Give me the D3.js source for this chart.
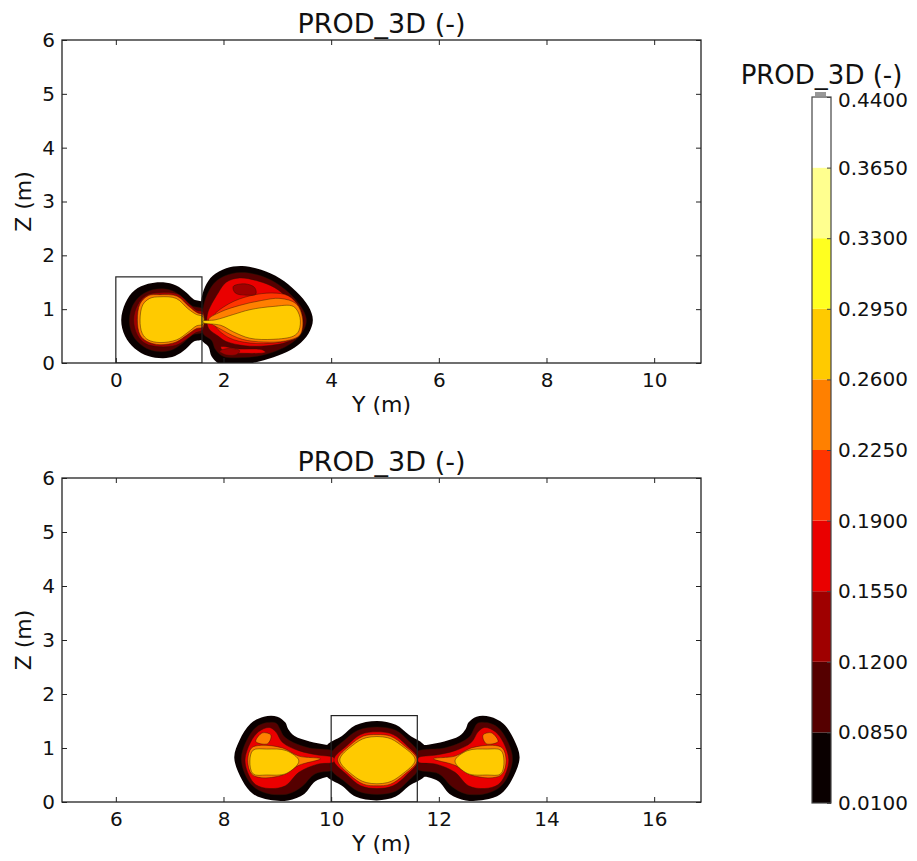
<!DOCTYPE html>
<html>
<head>
<meta charset="utf-8">
<script src="https://cdn.jsdelivr.net/npm/d3@7/dist/d3.min.js"></script>
<style>
  body { margin: 0; background: #fff; }
  svg { display: block; font-family: "DejaVu Sans", sans-serif; }
</style>
</head>
<body>
<svg id="chart" width="917" height="861"></svg>
<script>
// contour levels of PROD_3D and the 'hot' colours between them
const levels = [0.01, 0.085, 0.12, 0.155, 0.19, 0.225, 0.26, 0.295, 0.33, 0.365, 0.44];
const hotColours = ['#0a0000', '#550000', '#9f0000', '#ea0000', '#ff3500', '#ff8000',
                    '#ffca00', '#ffff20', '#ffff8f', '#ffffff'];

const zTicks = [0, 1, 2, 3, 4, 5, 6];
const yTicksTop = [0, 2, 4, 6, 8, 10];
const yTicksBottom = [6, 8, 10, 12, 14, 16];
const yRangeTop = [-1, 10.87];
const yRangeBottom = [5, 16.87];
const zRange = [0, 6];

// box outlines (y0, z0, y1, z1)
const boxTop = [0, 0, 1.6, 1.6];
const boxBottom = [10, 0, 11.6, 1.6];

// filled contour regions: lower bound of the band + outline (Y, Z)
const topLeftBlob = [
  {v: 0.01, pts: [[0.1,0.8],[0.18,1.12],[0.35,1.35],[0.6,1.47],[0.88,1.5],[1.12,1.44],[1.32,1.3],[1.45,1.18],[1.62,1.12],[1.62,0.45],[1.45,0.4],[1.3,0.26],[1.1,0.13],[0.88,0.09],[0.6,0.13],[0.35,0.27],[0.17,0.5]]},
  {v: 0.085, pts: [[0.25,0.8],[0.32,1.08],[0.47,1.26],[0.68,1.36],[0.88,1.38],[1.08,1.33],[1.26,1.2],[1.42,1.06],[1.62,1.0],[1.62,0.58],[1.42,0.52],[1.26,0.38],[1.06,0.25],[0.86,0.21],[0.62,0.25],[0.42,0.38],[0.3,0.55]]},
  {v: 0.12, pts: [[0.33,0.8],[0.4,1.07],[0.55,1.25],[0.82,1.31],[1.15,1.28],[1.36,1.1],[1.5,0.98],[1.62,0.95],[1.62,0.62],[1.48,0.56],[1.3,0.43],[1.12,0.33],[0.82,0.3],[0.55,0.36],[0.4,0.52]]},
  {v: 0.225, pts: [[0.4,0.8],[0.45,1.1],[0.6,1.25],[0.82,1.27],[1.14,1.24],[1.36,1.05],[1.52,0.93],[1.62,0.9],[1.62,0.67],[1.5,0.64],[1.32,0.52],[1.12,0.39],[0.82,0.34],[0.58,0.4],[0.45,0.52]]},
  {v: 0.26, pts: [[0.45,0.8],[0.5,1.08],[0.63,1.2],[0.82,1.23],[1.12,1.2],[1.35,1.0],[1.5,0.9],[1.62,0.86],[1.62,0.72],[1.5,0.69],[1.34,0.57],[1.13,0.43],[0.82,0.38],[0.6,0.43],[0.49,0.55]]}
];

const topRightBlob = [
  {v: 0.01, pts: [[1.58,1.12],[1.66,1.42],[1.8,1.62],[2.05,1.76],[2.35,1.8],[2.7,1.73],[3.05,1.57],[3.35,1.33],[3.58,1.05],[3.66,0.8],[3.58,0.55],[3.38,0.33],[3.1,0.17],[2.75,0.05],[2.35,-0.03],[1.95,-0.03],[1.78,0.12],[1.72,0.3],[1.58,0.45]]},
  {v: 0.085, pts: [[1.62,1.02],[1.74,1.36],[1.9,1.55],[2.15,1.66],[2.4,1.68],[2.72,1.61],[3.02,1.46],[3.28,1.24],[3.48,0.98],[3.54,0.78],[3.46,0.56],[3.28,0.38],[3.0,0.23],[2.7,0.14],[2.35,0.1],[2.0,0.12],[1.85,0.25],[1.78,0.42],[1.62,0.55]]},
  {v: 0.155, pts: [[1.7,0.9],[1.9,1.3],[2.05,1.5],[2.3,1.58],[2.65,1.52],[2.95,1.4],[3.2,1.2],[3.42,0.95],[3.48,0.75],[3.4,0.5],[3.15,0.38],[2.8,0.32],[2.4,0.32],[2.05,0.4],[1.9,0.5],[1.72,0.65]]},
  {v: 0.19, pts: [[1.8,0.85],[2.1,1.1],[2.5,1.25],[2.9,1.3],[3.2,1.25],[3.4,1.05],[3.47,0.8],[3.4,0.5],[3.0,0.38],[2.5,0.37],[2.1,0.47],[1.85,0.68]]},
  {v: 0.225, pts: [[1.72,0.8],[1.95,0.95],[2.3,1.07],[2.7,1.16],[3.05,1.2],[3.35,1.1],[3.47,0.82],[3.42,0.52],[3.15,0.41],[2.75,0.39],[2.35,0.44],[2.0,0.6]]},
  {v: 0.26, pts: [[1.62,0.78],[1.84,0.8],[2.18,0.9],[2.49,0.99],[2.92,1.05],[3.3,1.05],[3.42,0.85],[3.4,0.6],[3.3,0.5],[2.92,0.44],[2.49,0.46],[2.18,0.58],[1.95,0.7],[1.62,0.75]]}
];

const topPatches = [
  {v: 0.12, pts: [[2.18,1.42],[2.4,1.47],[2.58,1.4],[2.6,1.28],[2.42,1.26],[2.22,1.3]]},
  {v: 0.155, pts: [[1.95,0.3],[2.3,0.26],[2.7,0.25],[2.78,0.2],[2.4,0.18],[2.0,0.22]]},
  {v: 0.12, pts: [[1.93,0.22],[2.1,0.27],[2.3,0.23],[2.25,0.16],[2.05,0.15]]}
];

const bottomLeftLobe = [
  {v: 0.01, pts: [[8.2,0.82],[8.3,1.15],[8.5,1.45],[8.75,1.58],[9.0,1.58],[9.15,1.47],[9.2,1.35],[9.32,1.22],[9.6,1.12],[9.9,1.06],[10.15,1.02],[10.15,0.5],[9.9,0.46],[9.7,0.38],[9.5,0.15],[9.2,0.03],[8.85,0.04],[8.55,0.15],[8.35,0.4]]},
  {v: 0.085, pts: [[8.33,0.8],[8.42,1.12],[8.6,1.38],[8.8,1.47],[8.98,1.46],[9.05,1.35],[9.12,1.22],[9.3,1.1],[9.6,1.0],[10.08,0.92],[10.08,0.62],[9.7,0.52],[9.45,0.28],[9.2,0.15],[8.85,0.15],[8.6,0.25],[8.43,0.45]]},
  {v: 0.155, pts: [[8.4,0.78],[8.5,1.1],[8.65,1.3],[8.85,1.38],[8.97,1.3],[9.1,1.1],[9.4,0.95],[9.75,0.87],[10.05,0.82],[10.05,0.74],[9.75,0.7],[9.4,0.55],[9.15,0.3],[8.85,0.25],[8.6,0.32],[8.47,0.5]]},
  {v: 0.225, pts: [[8.45,0.77],[8.52,1.0],[8.7,1.05],[9.1,1.0],[9.4,0.85],[9.8,0.8],[9.4,0.68],[9.1,0.5],[8.7,0.45],[8.52,0.52]]},
  {v: 0.26, pts: [[8.49,0.76],[8.55,0.96],[8.8,0.98],[9.17,0.95],[9.4,0.76],[9.17,0.53],[8.8,0.5],[8.55,0.52]]}
];

const bottomCentreBlob = [
  {v: 0.01, pts: [[9.9,1.02],[10.2,1.22],[10.45,1.42],[10.85,1.5],[11.2,1.43],[11.45,1.24],[11.75,1.02],[11.75,0.5],[11.45,0.3],[11.2,0.1],[10.85,0.03],[10.45,0.1],[10.2,0.3],[9.9,0.5]]},
  {v: 0.085, pts: [[10.0,0.9],[10.25,1.15],[10.5,1.33],[10.85,1.39],[11.2,1.33],[11.42,1.15],[11.62,0.92],[11.62,0.6],[11.42,0.38],[11.2,0.2],[10.85,0.14],[10.5,0.2],[10.25,0.38],[10.0,0.6]]},
  {v: 0.155, pts: [[10.05,0.78],[10.3,1.05],[10.55,1.25],[10.85,1.3],[11.15,1.25],[11.4,1.05],[11.62,0.78],[11.4,0.5],[11.15,0.3],[10.85,0.25],[10.55,0.3],[10.3,0.5]]},
  {v: 0.225, pts: [[10.12,0.78],[10.35,1.05],[10.6,1.22],[10.85,1.25],[11.1,1.22],[11.35,1.05],[11.6,0.78],[11.35,0.5],[11.1,0.33],[10.85,0.3],[10.6,0.33],[10.35,0.5]]},
  {v: 0.26, pts: [[10.16,0.78],[10.4,1.05],[10.65,1.19],[11.05,1.19],[11.3,1.05],[11.56,0.78],[11.3,0.5],[11.05,0.36],[10.65,0.36],[10.4,0.5]]}
];

const bottomRightLobe = [
  {v: 0.01, pts: [[13.5,0.82],[13.4,1.15],[13.2,1.45],[12.95,1.58],[12.7,1.58],[12.55,1.47],[12.5,1.35],[12.38,1.22],[12.1,1.12],[11.8,1.06],[11.5,1.02],[11.5,0.5],[11.8,0.46],[12.0,0.38],[12.2,0.15],[12.5,0.03],[12.85,0.04],[13.15,0.15],[13.35,0.4]]},
  {v: 0.085, pts: [[13.37,0.8],[13.28,1.12],[13.1,1.38],[12.9,1.47],[12.72,1.46],[12.65,1.35],[12.58,1.22],[12.4,1.1],[12.1,1.0],[11.58,0.92],[11.58,0.62],[12.0,0.52],[12.25,0.28],[12.5,0.15],[12.85,0.15],[13.1,0.25],[13.27,0.45]]},
  {v: 0.155, pts: [[13.3,0.78],[13.2,1.1],[13.05,1.3],[12.85,1.38],[12.73,1.3],[12.6,1.1],[12.3,0.95],[11.95,0.87],[11.62,0.82],[11.62,0.74],[11.95,0.7],[12.3,0.55],[12.55,0.3],[12.85,0.25],[13.1,0.32],[13.23,0.5]]},
  {v: 0.225, pts: [[13.25,0.77],[13.18,1.0],[13.0,1.05],[12.6,1.0],[12.3,0.85],[11.9,0.8],[12.3,0.68],[12.6,0.5],[13.0,0.45],[13.18,0.52]]},
  {v: 0.26, pts: [[13.21,0.76],[13.15,0.96],[12.9,0.98],[12.53,0.95],[12.3,0.76],[12.53,0.53],[12.9,0.5],[13.15,0.52]]}
];

const bottomPatches = [
  {v: 0.225, pts: [[8.6,1.12],[8.72,1.28],[8.88,1.24],[8.82,1.08]]},
  {v: 0.225, pts: [[13.1,1.12],[12.98,1.28],[12.82,1.24],[12.88,1.08]]}
];

const svg = d3.select('#chart');
const colour = d3.scaleThreshold().domain(levels.slice(1, -1)).range(hotColours);

const left = 62, right = 701;

function panel(id, top, bottom, yRange, yTicks, box, blobs, patches) {
  const x = d3.scaleLinear().domain(yRange).range([left, right]);
  const y = d3.scaleLinear().domain(zRange).range([bottom, top]);
  const g = svg.append('g');

  g.append('clipPath').attr('id', 'clip' + id)
    .append('rect')
    .attr('x', left).attr('y', top)
    .attr('width', right - left).attr('height', bottom - top);

  const line = d3.line()
    .x(d => x(d[0]))
    .y(d => y(d[1]))
    .curve(d3.curveCatmullRomClosed.alpha(0.5));

  // contourf: draw band by band, lowest first
  const layers = d3.sort(d3.merge(blobs), d => d.v).concat(patches);
  const plot = g.append('g').attr('clip-path', `url(#clip${id})`);
  plot.selectAll('path.band')
    .data(layers)
    .join('path')
    .attr('class', 'band')
    .attr('d', d => line(d.pts))
    .attr('fill', d => colour(d.v))
    .attr('stroke', d => d.v > levels[0] ? 'rgba(40,20,0,0.55)' : 'none')
    .attr('stroke-width', 0.8);

  plot.append('rect')
    .attr('x', x(box[0])).attr('y', y(box[3]))
    .attr('width', x(box[2]) - x(box[0]))
    .attr('height', y(box[1]) - y(box[3]))
    .attr('fill', 'none')
    .attr('stroke', '#222')
    .attr('stroke-width', 1.2);

  // axes, ticks pointing inward on all sides
  const fmt = d3.format('d');
  const styleAxis = sel => {
    sel.select('.domain').remove();
    sel.selectAll('line').attr('stroke', '#222');
    sel.selectAll('text').attr('font-size', 20).attr('fill', '#111')
      .attr('font-family', '"DejaVu Sans", sans-serif');
  };
  g.append('g').attr('transform', `translate(0,${bottom})`)
    .call(d3.axisBottom(x).tickValues(yTicks).tickSize(-5).tickPadding(10).tickFormat(fmt))
    .call(styleAxis);
  g.append('g').attr('transform', `translate(0,${top})`)
    .call(d3.axisTop(x).tickValues(yTicks).tickSize(-5).tickFormat(''))
    .call(styleAxis);
  g.append('g').attr('transform', `translate(${left},0)`)
    .call(d3.axisLeft(y).tickValues(zTicks).tickSize(-5).tickPadding(7).tickFormat(fmt))
    .call(styleAxis);
  g.append('g').attr('transform', `translate(${right},0)`)
    .call(d3.axisRight(y).tickValues(zTicks).tickSize(-5).tickFormat(''))
    .call(styleAxis);

  g.append('rect')
    .attr('x', left).attr('y', top)
    .attr('width', right - left).attr('height', bottom - top)
    .attr('fill', 'none').attr('stroke', '#222').attr('stroke-width', 1.3);

  g.append('text')
    .attr('x', (left + right) / 2).attr('y', top - 7)
    .attr('text-anchor', 'middle').attr('font-size', 27).attr('fill', '#111')
    .text('PROD_3D (-)');
  g.append('text')
    .attr('x', (left + right) / 2).attr('y', bottom + 49)
    .attr('text-anchor', 'middle').attr('font-size', 22).attr('fill', '#111')
    .text('Y (m)');
  g.append('text')
    .attr('transform', `translate(31,${(top + bottom) / 2}) rotate(-90)`)
    .attr('text-anchor', 'middle').attr('font-size', 22).attr('fill', '#111')
    .text('Z (m)');
}

panel('a', 40, 363, yRangeTop, yTicksTop, boxTop, [topLeftBlob, topRightBlob], topPatches);
panel('b', 478, 802, yRangeBottom, yTicksBottom, boxBottom,
      [bottomLeftLobe, bottomCentreBlob, bottomRightLobe], bottomPatches);

// colour bar, bands evenly spaced as in matplotlib
const barX = 812, barW = 19;
const yBar = d3.scalePoint().domain(levels).range([803, 97]);
const cb = svg.append('g');
cb.selectAll('rect.band')
  .data(d3.pairs(levels))
  .join('rect')
  .attr('class', 'band')
  .attr('x', barX)
  .attr('y', d => yBar(d[1]))
  .attr('width', barW)
  .attr('height', d => yBar(d[0]) - yBar(d[1]))
  .attr('fill', d => colour(d[0]));
cb.append('rect')
  .attr('x', barX).attr('y', yBar(levels[levels.length - 1]))
  .attr('width', barW).attr('height', yBar(levels[0]) - yBar(levels[levels.length - 1]))
  .attr('fill', 'none').attr('stroke', '#444').attr('stroke-width', 1.2);
cb.append('g').attr('transform', `translate(${barX + barW},0)`)
  .call(d3.axisRight(yBar).tickSize(-4).tickPadding(7).tickFormat(d3.format('.4f')))
  .call(sel => {
    sel.select('.domain').remove();
    sel.selectAll('line').attr('stroke', '#444');
    sel.selectAll('text').attr('font-size', 20).attr('fill', '#111')
      .attr('font-family', '"DejaVu Sans", sans-serif');
    // keep the top label clear of the bar title
    sel.selectAll('.tick').filter(d => d === levels[levels.length - 1])
      .select('text').attr('dy', '0.45em');
  });
// little marks above the bar
cb.append('path')
  .attr('d', `M${barX + 3},${yBar(levels[10]) - 4}h11M${barX + 3},${yBar(levels[10]) - 2}h11`)
  .attr('stroke', '#333').attr('stroke-width', 1);
cb.append('text')
  .attr('x', barX + barW / 2).attr('y', 84)
  .attr('text-anchor', 'middle').attr('font-size', 26).attr('fill', '#111')
  .text('PROD_3D (-)');
</script>
</body>
</html>
